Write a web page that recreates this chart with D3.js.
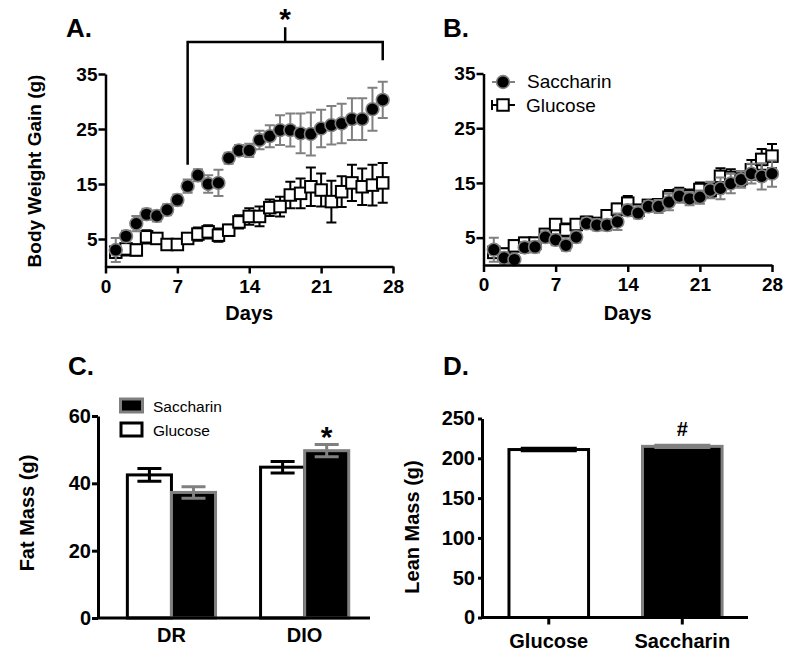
<!DOCTYPE html>
<html><head><meta charset="utf-8">
<script src="https://cdn.jsdelivr.net/npm/d3@7"></script>
<style>body{margin:0;background:#fff;} svg{display:block;} text{font-family:"Liberation Sans",Arial,sans-serif;}</style>
</head><body><svg id="c" width="800" height="666"></svg>
<script>
// ---------- Data ----------
const daysA = [1,2,3,4,5,6,7,8,9,10,11,12,13,14,15,16,17,18,19,20,21,22,23,24,25,26,27];
const saccA = [3.0,5.5,7.8,9.5,9.2,10.3,12.1,14.6,16.6,15.0,15.2,19.7,21.1,21.1,23.0,23.7,24.8,24.8,24.2,24.1,25.1,25.7,26.0,26.8,26.8,28.6,30.3];
const saccAErr = [2.2,1.0,1.4,1.0,1.0,1.0,1.0,1.2,1.1,1.6,2.4,1.0,1.0,1.2,1.7,2.0,2.7,3.0,3.6,3.9,3.4,3.5,3.6,3.8,3.8,3.9,3.3];
const glucA = [2.6,3.2,3.0,5.4,5.1,4.0,4.0,5.1,5.9,6.3,5.7,6.6,8.1,9.1,9.1,10.7,10.9,13.0,13.3,14.5,13.9,11.8,13.6,15.2,14.5,14.8,15.2];
const glucAErr = [1.0,1.2,1.0,1.2,1.0,0.8,0.8,1.0,1.2,1.2,1.2,1.0,1.2,1.5,1.8,1.5,1.8,2.4,2.7,3.5,3.0,3.8,2.8,3.3,3.3,3.7,3.6];

const daysB = [1,2,3,4,5,6,7,8,9,10,11,12,13,14,15,16,17,18,19,20,21,22,23,24,25,26,27,28];
const saccB = [2.8,1.3,1.0,3.2,3.3,5.1,4.6,3.6,5.1,7.6,7.3,7.3,7.9,10.0,9.5,10.7,10.7,11.5,12.6,12.1,12.4,13.7,14.0,14.9,15.6,16.7,16.2,16.7];
const saccBErr = [2.2,1.0,0.8,1.0,1.0,1.0,1.0,1.0,1.0,1.0,1.0,1.0,1.5,1.0,1.0,1.0,1.2,1.5,1.2,1.2,1.2,1.5,2.0,1.8,1.5,1.8,2.4,2.4];
const glucB = [2.3,2.0,3.5,4.0,4.0,5.6,7.4,6.4,7.4,7.8,7.6,9.0,10.2,11.3,10.0,10.9,11.0,12.4,12.8,12.6,13.8,13.6,16.2,16.0,15.8,17.4,19.3,19.9];
const glucBErr = [1.0,1.0,1.0,1.0,1.0,1.0,1.0,1.2,1.0,1.0,1.0,1.0,1.0,1.3,1.0,1.0,1.0,1.3,1.3,1.2,1.3,1.3,1.5,1.5,1.3,1.8,1.9,2.2];

const dayTicks = [0,7,14,21,28];
const gainTicks = [5,15,25,35];

const groupsC = ["DR","DIO"];
const seriesC = ["Glucose","Saccharin"];
const glucC = [42.5,44.8];
const glucCErr = [1.9,1.7];
const saccC = [37.3,49.7];
const saccCErr = [1.7,1.8];
const fatTicks = [0,20,40,60];

const groupsD = ["Glucose","Saccharin"];
const leanD = [211,215];
const leanDErr = [1.5,1.5];
const leanTicks = [0,50,100,150,200,250];

const legendLabels = ["Saccharin","Glucose"];

// ---------- Drawing ----------
const FONT = '"Liberation Sans",Arial,sans-serif';
const GRAY = "#808080";
const svg = d3.select("#c");

function styleAxis(g, sw, fs){
  g.attr("font-family", FONT).attr("font-size", fs).attr("font-weight","bold");
  g.select(".domain").attr("stroke","#000").attr("stroke-width", sw);
  g.selectAll(".tick line").attr("stroke","#000").attr("stroke-width", sw);
  g.selectAll(".tick text").attr("fill","#000");
}
function label(txt, x, y, fs, opts={}){
  const t = svg.append("text").attr("x",x).attr("y",y).text(txt)
    .attr("font-size",fs).attr("font-weight", opts.weight||"bold")
    .attr("text-anchor", opts.anchor||"start").attr("fill","#000");
  if(opts.rotate) t.attr("transform",`rotate(-90,${x},${y})`);
  return t;
}
function errBars(g, pts, x, y, color, capW, sw){
  g.append("g").attr("stroke",color).attr("stroke-width",sw).attr("fill","none")
   .selectAll("path").data(pts).join("path")
   .attr("d", p => {
     const cx = x(p.x), y1 = y(p.y + p.e), y0 = y(p.y - p.e);
     return `M${cx},${y0}V${y1}M${cx-capW/2},${y1}H${cx+capW/2}M${cx-capW/2},${y0}H${cx+capW/2}`;
   });
}

function timePanel(xr, yr, days, sacc, saccE, gluc, glucE){
  const x = d3.scaleLinear().domain([0,28]).range(xr);
  const y = d3.scaleLinear().domain([0,35]).range(yr);
  const g = svg.append("g");
  const gp = days.map((d,i)=>({x:d,y:gluc[i],e:glucE[i]}));
  const sp = days.map((d,i)=>({x:d,y:sacc[i],e:saccE[i]}));
  errBars(g, gp, x, y, "#000", 10, 2);
  const S = 11.5;
  g.append("g").selectAll("rect").data(gp).join("rect")
    .attr("x", p=>x(p.x)-S/2).attr("y", p=>y(p.y)-S/2).attr("width",S).attr("height",S)
    .attr("fill","#fff").attr("stroke","#000").attr("stroke-width",2);
  errBars(g, sp, x, y, GRAY, 10, 2);
  g.append("g").selectAll("circle").data(sp).join("circle")
    .attr("cx", p=>x(p.x)).attr("cy", p=>y(p.y)).attr("r",6.4)
    .attr("fill","#000").attr("stroke",GRAY).attr("stroke-width",1.6);
  const ay = svg.append("g").attr("transform",`translate(${xr[0]},0)`)
    .call(d3.axisLeft(y).tickValues(gainTicks).tickSize(7).tickSizeOuter(0).tickPadding(1));
  styleAxis(ay, 2.5, 19);
  const ax = svg.append("g").attr("transform",`translate(0,${yr[0]})`)
    .call(d3.axisBottom(x).tickValues(dayTicks).tickSize(7).tickSizeOuter(0).tickPadding(6));
  styleAxis(ax, 2.5, 19);
  label("Days", (xr[0]+xr[1])/2, 320, 20, {anchor:"middle"});
  return {x,y};
}

// Panel A
const A = timePanel([105.5,393],[266.5,74], daysA, saccA, saccAErr, glucA, glucAErr);
label("A.", 66, 37, 26);
label("Body Weight Gain (g)", 41, 171, 19, {anchor:"middle", rotate:true});
// significance bracket
svg.append("path")
  .attr("d", `M${A.x(8)},${A.y(18.5)}V${A.y(40.8)}H${A.x(27)}V${A.y(37.5)}M${A.x(17.5)},${A.y(40.8)}V${A.y(43.5)}`)
  .attr("fill","none").attr("stroke","#000").attr("stroke-width",2.5);
label("*", A.x(17.5), 29, 30, {anchor:"middle"});

// Panel B
const B = timePanel([483.5,772],[265,73.5], daysB, saccB, saccBErr, glucB, glucBErr);
label("B.", 443, 37, 26);
// legend B
const lg = svg.append("g");
lg.append("path").attr("d","M492,82H515").attr("stroke",GRAY).attr("stroke-width",2);
lg.append("circle").attr("cx",503).attr("cy",82).attr("r",6.4).attr("fill","#000").attr("stroke",GRAY).attr("stroke-width",1.6);
lg.append("path").attr("d","M492,100V110M492,105H515").attr("stroke","#000").attr("stroke-width",2).attr("fill","none");
lg.append("rect").attr("x",497.25).attr("y",99.25).attr("width",11.5).attr("height",11.5).attr("fill","#fff").attr("stroke","#000").attr("stroke-width",2);
label(legendLabels[0], 527, 88, 19, {weight:"normal"});
label(legendLabels[1], 526, 112, 19, {weight:"normal"});

// Panel C
{
  const x = d3.scaleBand().domain(groupsC).range([98,370]).paddingInner(0.338).paddingOuter(0.19).align(0.58);
  const xi = d3.scaleBand().domain(seriesC).range([0, x.bandwidth()]);
  const y = d3.scaleLinear().domain([0,60]).range([618,416]);
  const data = groupsC.map((g,i)=>[
    {grp:g, s:"Glucose", v:glucC[i], e:glucCErr[i]},
    {grp:g, s:"Saccharin", v:saccC[i], e:saccCErr[i]}]).flat();
  const g = svg.append("g");
  g.selectAll("rect").data(data).join("rect")
    .attr("x", d=>x(d.grp)+xi(d.s)).attr("y", d=>y(d.v))
    .attr("width", xi.bandwidth()).attr("height", d=>y(0)-y(d.v))
    .attr("fill", d=>d.s==="Glucose"?"#fff":"#000")
    .attr("stroke", d=>d.s==="Glucose"?"#000":GRAY).attr("stroke-width",3);
  const cx = d => x(d.grp)+xi(d.s)+xi.bandwidth()/2;
  ["Glucose","Saccharin"].forEach(s=>{
    const pts = data.filter(d=>d.s===s).map(d=>({x:cx(d), y:d.v, e:d.e}));
    errBars(g, pts, v=>v, y, s==="Glucose"?"#000":GRAY, 24, 3);
  });
  const ay = svg.append("g").attr("transform","translate(98,0)")
    .call(d3.axisLeft(y).tickValues(fatTicks).tickSize(6).tickSizeOuter(0).tickPadding(1));
  styleAxis(ay, 3, 20);
  const ax = svg.append("g").attr("transform","translate(0,618)")
    .call(d3.axisBottom(x).tickSize(0).tickSizeOuter(0).tickPadding(10));
  styleAxis(ax, 3, 20);
  ax.select(".domain").attr("d","M98,0H370");
  label("C.", 68, 375, 26);
  label("Fat Mass (g)", 34, 513, 20, {anchor:"middle", rotate:true});
  label("*", cx(data[3]), 447, 30, {anchor:"middle"});
  // legend C
  svg.append("rect").attr("x",120.5).attr("y",399).attr("width",22).attr("height",13).attr("fill","#000").attr("stroke",GRAY).attr("stroke-width",3);
  svg.append("rect").attr("x",121).attr("y",423).attr("width",21).attr("height",13).attr("fill","#fff").attr("stroke","#000").attr("stroke-width",3);
  label(legendLabels[0], 153, 412, 15.5, {weight:"normal"});
  label(legendLabels[1], 153, 436, 15.5, {weight:"normal"});
}

// Panel D
{
  const x = d3.scaleBand().domain(groupsD).range([482,748]).paddingInner(0.404).paddingOuter(0.198).align(0.51);
  const y = d3.scaleLinear().domain([0,250]).range([617.5,418.5]);
  const data = groupsD.map((g,i)=>({g, v:leanD[i], e:leanDErr[i]}));
  const g = svg.append("g");
  g.selectAll("rect").data(data).join("rect")
    .attr("x", d=>x(d.g)).attr("y", d=>y(d.v)).attr("width", x.bandwidth()).attr("height", d=>y(0)-y(d.v))
    .attr("fill", d=>d.g==="Glucose"?"#fff":"#000")
    .attr("stroke", d=>d.g==="Glucose"?"#000":GRAY).attr("stroke-width",3);
  data.forEach(d=>{
    errBars(g, [{x:x(d.g)+x.bandwidth()/2, y:d.v, e:d.e}], v=>v, y, d.g==="Glucose"?"#000":GRAY, 56, 3);
  });
  const ay = svg.append("g").attr("transform","translate(482,0)")
    .call(d3.axisLeft(y).tickValues(leanTicks).tickSize(4).tickSizeOuter(0).tickPadding(3));
  styleAxis(ay, 3, 20);
  const ax = svg.append("g").attr("transform","translate(0,617.5)")
    .call(d3.axisBottom(x).tickSize(7).tickSizeOuter(0).tickPadding(9));
  styleAxis(ax, 3, 20);
  ax.select(".domain").attr("d","M482,0H748");
  label("D.", 443, 375, 26);
  label("Lean Mass (g)", 419, 527, 20, {anchor:"middle", rotate:true});
  label("#", x("Saccharin")+x.bandwidth()/2, 436, 20, {anchor:"middle"});
}
</script></body></html>
